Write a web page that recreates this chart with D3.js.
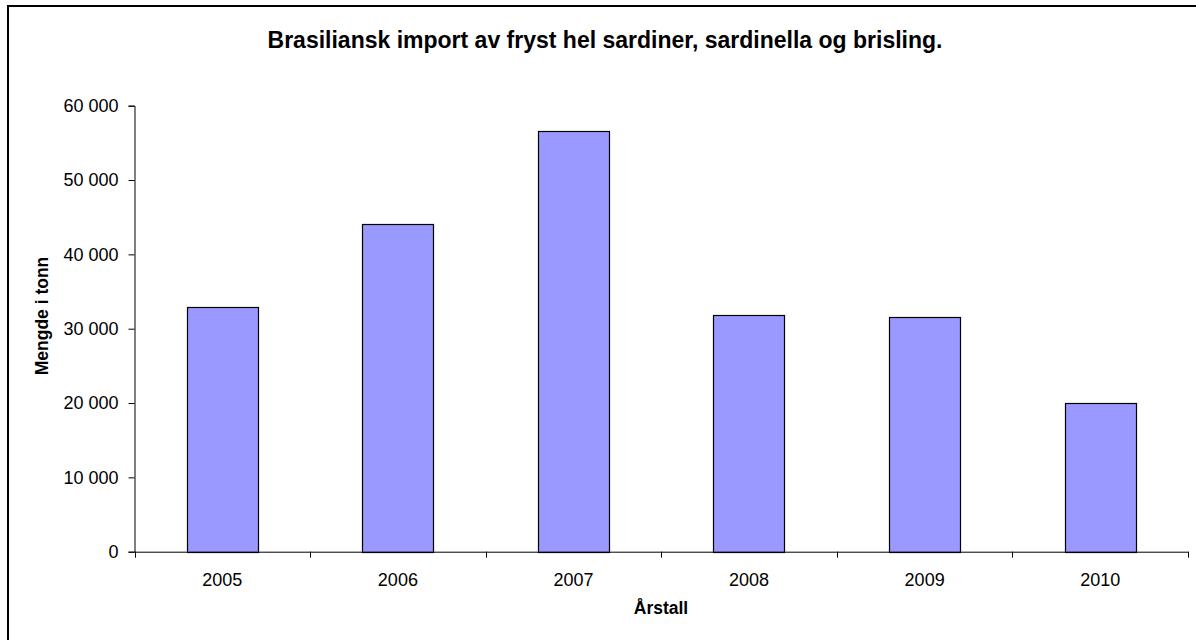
<!DOCTYPE html>
<html>
<head>
<meta charset="utf-8">
<script src="https://cdn.jsdelivr.net/npm/d3@7"></script>
<style>
  body { margin: 0; background: #fff; }
  text { font-family: Arial, "Liberation Sans", sans-serif; }
</style>
</head>
<body>
<div id="container"></div>
<script>
const years = ["2005", "2006", "2007", "2008", "2009", "2010"];
const tonnes = [32950, 44100, 56650, 31800, 31600, 20050];
const yTicks = [0, 10000, 20000, 30000, 40000, 50000, 60000];
const titleText = "Brasiliansk import av fryst hel sardiner, sardinella og brisling.";
const yTitle = "Mengde i tonn";
const xTitle = "Årstall";

const width = 1196;
const height = 640;
const margin = {top: 105.7, right: 8, bottom: 88.3, left: 134.5};

const svg = d3.create("svg")
    .attr("width", width)
    .attr("height", height);

// outer chart border (right/bottom fall outside the picture)
svg.append("rect")
    .attr("x", 8)
    .attr("y", 6)
    .attr("width", 1192)
    .attr("height", 640)
    .attr("fill", "none")
    .attr("stroke", "#000")
    .attr("stroke-width", 2);

const xCat = d3.scaleBand()
    .domain(years)
    .range([margin.left, width - margin.right]);

const x = d3.scaleBand()
    .domain(years)
    .range([margin.left, width - margin.right])
    .paddingInner(0.595)
    .paddingOuter(0.2975);

const y = d3.scaleLinear()
    .domain([0, 60000])
    .range([height - margin.bottom, margin.top]);

const fmt = v => d3.format(",")(v).replace(/,/g, " ");

// bars
svg.append("g")
    .selectAll("rect")
    .data(years)
    .join("rect")
    .attr("x", d => Math.round(x(d)) + 0.5)
    .attr("y", (d, i) => Math.round(y(tonnes[i])) + 0.5)
    .attr("width", Math.round(x.bandwidth()))
    .attr("height", (d, i) => Math.round(y(0)) - Math.round(y(tonnes[i])))
    .attr("fill", "#9999ff")
    .attr("stroke", "#000")
    .attr("stroke-width", 1.2);

// y axis
const yAxis = svg.append("g")
    .attr("transform", `translate(${margin.left}, 0)`)
    .call(d3.axisLeft(y).tickValues(yTicks).tickSize(6).tickPadding(10).tickFormat(fmt));
yAxis.selectAll("text")
    .attr("font-size", "18px")
    .attr("font-family", "Arial, 'Liberation Sans', sans-serif")
    .attr("fill", "#000");
yAxis.selectAll("line, path").attr("stroke", "#000");

// x axis: labels centred in categories, ticks at category boundaries
const xAxis = svg.append("g")
    .attr("transform", `translate(0, ${height - margin.bottom})`)
    .call(d3.axisBottom(xCat).tickSize(0).tickPadding(22));
xAxis.select("path").attr("stroke", "#000");
xAxis.selectAll("text")
    .attr("font-size", "18px")
    .attr("font-family", "Arial, 'Liberation Sans', sans-serif")
    .attr("fill", "#000");

const bounds = years.map(d => xCat(d)).concat([xCat(years[years.length - 1]) + xCat.bandwidth()]);
xAxis.selectAll(".bound")
    .data(bounds)
    .join("line")
    .attr("class", "bound")
    .attr("x1", d => Math.round(d) + 0.5)
    .attr("x2", d => Math.round(d) + 0.5)
    .attr("y1", 0)
    .attr("y2", 6)
    .attr("stroke", "#000");

// titles
svg.append("text")
    .attr("x", 605)
    .attr("y", 48)
    .attr("text-anchor", "middle")
    .attr("font-size", "23px")
    .attr("font-weight", "bold")
    .text(titleText);

svg.append("text")
    .attr("transform", `translate(48, 316) rotate(-90)`)
    .attr("text-anchor", "middle")
    .attr("font-size", "17.5px")
    .attr("font-weight", "bold")
    .text(yTitle);

svg.append("text")
    .attr("x", 661)
    .attr("y", 614)
    .attr("text-anchor", "middle")
    .attr("font-size", "17.5px")
    .attr("font-weight", "bold")
    .text(xTitle);

document.getElementById("container").append(svg.node());
</script>
</body>
</html>
